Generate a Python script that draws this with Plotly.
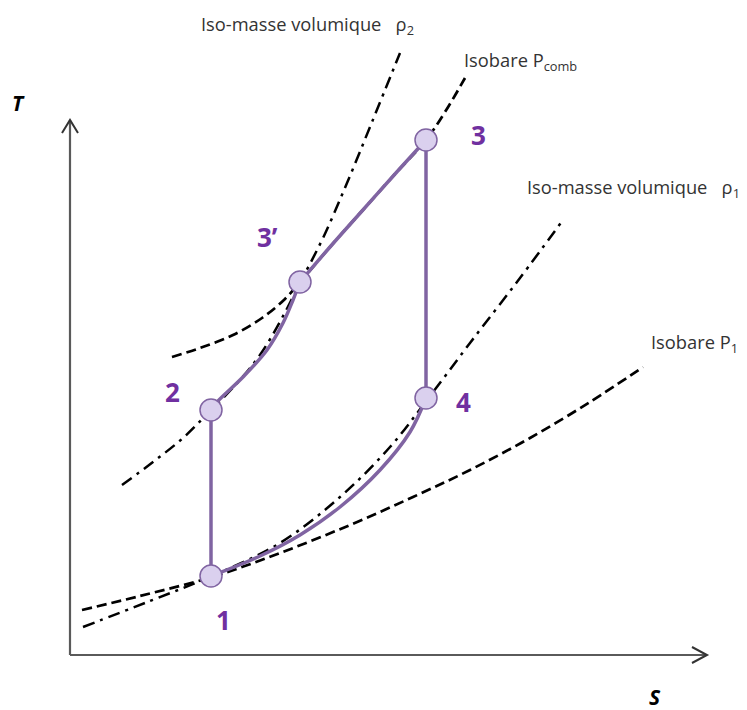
import plotly.graph_objects as go

# ---- data (entropy s, temperature T, schematic units) ----
point_names = ["1", "2", "3’", "3", "4"]
point_s = [141, 141, 230, 356, 356]
point_T = [79, 245, 373, 515, 257]

# isobar P_comb (dashed)
pcomb_s = [102, 130, 163, 192, 215, 230, 260, 292, 325, 356, 375, 395]
pcomb_T = [298, 307, 320, 337, 356, 373, 408, 444, 481, 515, 543, 577]

# iso-density rho2 (dash-dot)
rho2_s = [52, 83, 113, 140, 170, 192, 212, 231, 253, 277, 302, 330]
rho2_T = [170, 193, 217, 244, 275, 303, 337, 374, 417, 472, 533, 602]

# iso-density rho1 (dash-dot)
rho1_s = [13, 80, 142, 210, 270, 320, 357, 400, 450, 493]
rho1_T = [28, 54, 79, 112, 158, 208, 255, 312, 377, 435]

# isobar P1 (dashed)
p1_s = [12, 70, 142, 210, 280, 343, 400, 460, 520, 573]
p1_T = [45, 59, 78, 102, 130, 158, 185, 217, 253, 288]

# cycle paths
path_23_s = [141, 147, 173, 197, 213, 223, 230]
path_23_T = [245, 253, 278, 305, 332, 355, 373]
path_33_s = [230, 260, 292, 325, 356]
path_33_T = [373, 408, 444, 481, 515]
path_41_s = [356, 340, 310, 270, 230, 190, 141]
path_41_T = [257, 223, 185, 148, 120, 99, 79]

axis_s_max = 637
axis_T_max = 535

PURPLE = "#8064A2"
LABEL_PURPLE = "#7030A0"
TXT = "#333333"
FONT = "Open Sans"

fig = go.Figure()

dash_style = "10px,5px"
dashdot_style = "12px,6px,3px,6px"

fig.add_trace(go.Scatter(x=p1_s, y=p1_T, mode="lines",
                         line=dict(color="black", width=2.7, dash=dash_style, shape="spline"),
                         hoverinfo="skip"))
fig.add_trace(go.Scatter(x=rho1_s, y=rho1_T, mode="lines",
                         line=dict(color="black", width=2.5, dash=dashdot_style, shape="spline"),
                         hoverinfo="skip"))
fig.add_trace(go.Scatter(x=rho2_s, y=rho2_T, mode="lines",
                         line=dict(color="black", width=2.5, dash=dashdot_style, shape="spline"),
                         hoverinfo="skip"))
fig.add_trace(go.Scatter(x=pcomb_s, y=pcomb_T, mode="lines",
                         line=dict(color="black", width=2.7, dash=dash_style, shape="spline"),
                         hoverinfo="skip"))

# cycle
fig.add_trace(go.Scatter(x=[point_s[0], point_s[1]], y=[point_T[0], point_T[1]], mode="lines",
                         line=dict(color=PURPLE, width=3.5), hoverinfo="skip"))
fig.add_trace(go.Scatter(x=path_23_s, y=path_23_T, mode="lines",
                         line=dict(color=PURPLE, width=3.5, shape="spline"), hoverinfo="skip"))
fig.add_trace(go.Scatter(x=path_33_s, y=path_33_T, mode="lines",
                         line=dict(color=PURPLE, width=3.5, shape="spline"), hoverinfo="skip"))
fig.add_trace(go.Scatter(x=[point_s[3], point_s[4]], y=[point_T[3], point_T[4]], mode="lines",
                         line=dict(color=PURPLE, width=3.5), hoverinfo="skip"))
fig.add_trace(go.Scatter(x=path_41_s, y=path_41_T, mode="lines",
                         line=dict(color=PURPLE, width=3.5, shape="spline"), hoverinfo="skip"))

fig.add_trace(go.Scatter(x=point_s, y=point_T, mode="markers",
                         marker=dict(size=22, color="#DAD0EE", line=dict(color=PURPLE, width=1.5)),
                         hoverinfo="skip"))

# point labels
offsets = {"1": (12, -44), "2": (-39, 18), "3’": (-33, 45), "3": (52, 5), "4": (37, -4)}
for name, s, T in zip(point_names, point_s, point_T):
    dx, dy = offsets[name]
    fig.add_annotation(x=s, y=T, xref="x", yref="y", text=f"<b>{name}</b>", showarrow=False,
                       xshift=dx, yshift=dy, font=dict(family=FONT, size=26, color=LABEL_PURPLE))

NB = "\u00a0"
GAP = NB * 3
curve_labels = [
    (rho2_s[-1], rho2_T[-1], f"Iso-masse volumique{GAP}ρ<sub>2</sub>", "right", 16, 28),
    (pcomb_s[-1], pcomb_T[-1], "Isobare P<sub>comb</sub>", "left", -3, 17),
    (rho1_s[-1], rho1_T[-1], f"Iso-masse volumique{GAP}ρ<sub>1</sub>", "left", -38, 32),
    (p1_s[-1], p1_T[-1], "Isobare P<sub>1</sub>", "left", 6, 24),
]
for x, y, txt, anchor, dx, dy in curve_labels:
    fig.add_annotation(x=x, y=y, xref="x", yref="y", text=txt, showarrow=False,
                       xanchor=anchor, xshift=dx, yshift=dy,
                       font=dict(family=FONT, size=18.3, color=TXT))

# axes with open arrowheads
AX = "#5a5a5a"
fig.add_shape(type="line", x0=0, y0=0, x1=0, y1=axis_T_max, line=dict(color=AX, width=2.2))
fig.add_shape(type="line", x0=0, y0=0, x1=axis_s_max, y1=0, line=dict(color=AX, width=2.2))
fig.add_shape(type="path", path=f"M -8,{axis_T_max-13} L 0,{axis_T_max} L 8,{axis_T_max-13}",
              line=dict(color="#333", width=2))
fig.add_shape(type="path", path=f"M {axis_s_max-15},8 L {axis_s_max},0 L {axis_s_max-15},-8",
              line=dict(color="#333", width=2))

fig.add_annotation(x=0, y=axis_T_max, xref="x", yref="y", text="<b><i>T</i></b>", showarrow=False,
                   xshift=-52, yshift=17, font=dict(family=FONT, size=21, color="black"))
fig.add_annotation(x=axis_s_max, y=0, xref="x", yref="y", text="<b><i>S</i></b>", showarrow=False,
                   xshift=-52, yshift=-42, font=dict(family=FONT, size=21, color="black"))

# the page adds an 8px body margin, so the figure is 8px smaller and the ranges compensate
fig.update_layout(
    width=739, height=702, autosize=False,
    margin=dict(l=0, r=0, t=0, b=0),
    paper_bgcolor="white", plot_bgcolor="white",
    showlegend=False,
    xaxis=dict(range=[-62, 677], visible=False, fixedrange=True),
    yaxis=dict(range=[-55, 647], visible=False, fixedrange=True),
)

fig.write_html("out.html")
